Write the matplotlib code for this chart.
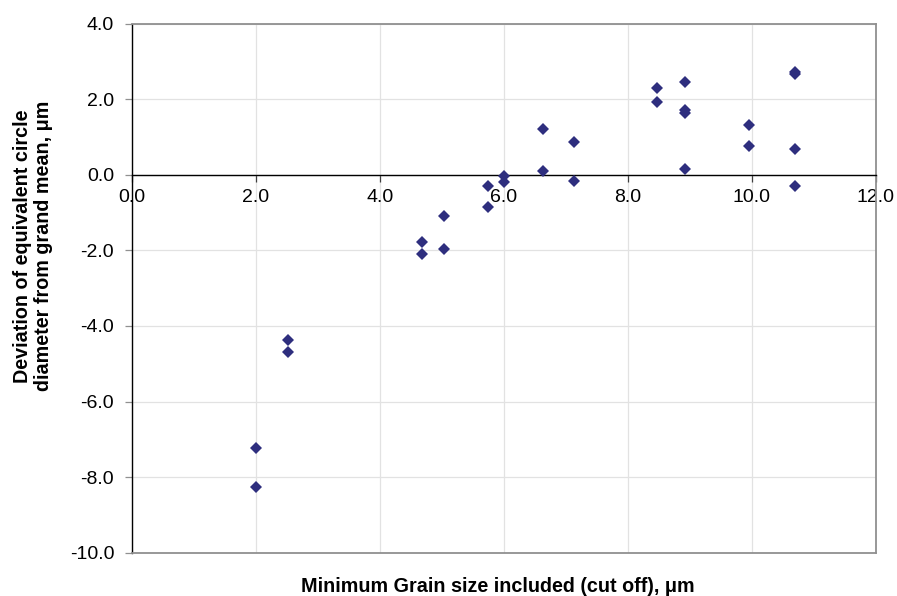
import matplotlib
matplotlib.use("Agg")
import matplotlib.pyplot as plt

plt.rcParams['font.family'] = ['Liberation Sans', 'DejaVu Sans']

cutoff_um = [2.0, 2.0, 2.52, 2.52,
             4.69, 4.69, 5.04, 5.04, 5.74, 5.74, 6.0, 6.0,
             6.64, 6.64, 7.13, 7.13,
             8.47, 8.47, 8.92, 8.92, 8.92, 8.92,
             9.96, 9.96, 10.69, 10.69, 10.69, 10.69]
deviation_um = [-7.23, -8.25, -4.37, -4.69,
                -1.77, -2.09, -1.08, -1.96, -0.29, -0.86, -0.02, -0.18,
                1.21, 0.11, 0.87, -0.16,
                2.31, 1.93, 2.47, 1.72, 1.63, 0.16,
                1.32, 0.77, 2.72, 2.67, 0.68, -0.29]

x_ticks = [0, 2, 4, 6, 8, 10, 12]
y_ticks = [-10, -8, -6, -4, -2, 0, 2, 4]

fig = plt.figure(figsize=(8.97, 5.96), dpi=100)
ax = fig.add_axes([131.5/897, 1-552.7/596, (876-131.5)/897, (552.7-23.7)/596])

ax.plot(cutoff_um, deviation_um, linestyle='none', marker='D', markersize=6.6,
        color='#2E2E7E', markeredgewidth=0, zorder=5)

ax.set_xlim(0, 12)
ax.set_ylim(-10, 4)
ax.set_xticks(x_ticks)
ax.set_yticks(y_ticks)
ax.set_xticklabels([f"{v:.1f}" for v in x_ticks])
ax.set_yticklabels([f"{v:.1f}" for v in y_ticks])

ax.grid(True, color='#e2e2e2', linewidth=0.9, zorder=0)
ax.set_axisbelow(True)

ax.spines['bottom'].set_position(('data', 0))
ax.spines['bottom'].set_color('black')
ax.spines['bottom'].set_linewidth(1.0)
ax.spines['left'].set_color('black')
ax.spines['left'].set_linewidth(1.0)
for s in ('top', 'right'):
    ax.spines[s].set_color('#909090')
    ax.spines[s].set_linewidth(1.3)
ax.axhline(-10, color='#909090', linewidth=1.3, clip_on=False, zorder=3)

ax.tick_params(axis='x', direction='out', length=5, width=0.9, color='#404040',
               labelsize=14, pad=5.5, labelcolor='black')
ax.tick_params(axis='y', direction='out', length=5, width=0.9, color='#909090',
               labelsize=14, pad=7.5, labelcolor='black')

fig.text(33/897, 1-246/596, "Deviation of equivalent circle\ndiameter from grand mean, μm",
         rotation=90, ha='center', va='center', fontsize=14.2, fontweight='bold',
         linespacing=1.1)
fig.text(498/897, 1-586/596, "Minimum Grain size included (cut off), μm",
         ha='center', va='center', fontsize=14.2, fontweight='bold')

fig.savefig("out.png", dpi=100)
